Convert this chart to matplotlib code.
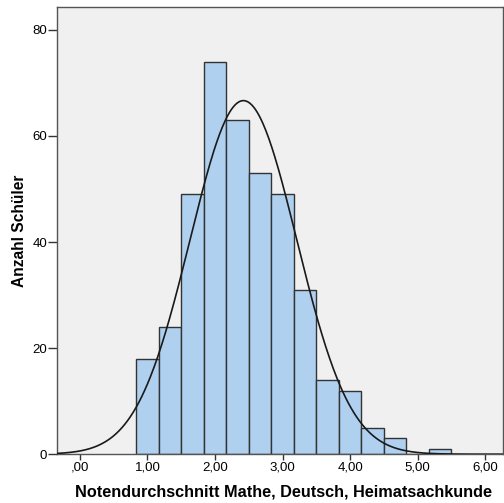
import numpy as np
import matplotlib.pyplot as plt

# histogram bins (lower edges) and counts
bin_width = 1 / 3
bin_starts = [0.8333, 1.1667, 1.5, 1.8333, 2.1667, 2.5, 2.8333, 3.1667,
              3.5, 3.8333, 4.1667, 4.5, 4.8333, 5.1667]
counts = [18, 24, 49, 74, 63, 53, 49, 31, 14, 12, 5, 3, 0, 1]

# fitted normal curve parameters
mean = 2.42
sd = 0.79

xticks = [0, 1, 2, 3, 4, 5, 6]
xtick_labels = [",00", "1,00", "2,00", "3,00", "4,00", "5,00", "6,00"]
yticks = [0, 20, 40, 60, 80]

plt.rcParams['font.family'] = ['Liberation Sans', 'DejaVu Sans']

fig = plt.figure(figsize=(5.04, 5.03), dpi=100)
ax = fig.add_axes([0.113, 0.097, 0.886, 0.889])
ax.set_facecolor('#f0f0f0')

ax.bar(bin_starts, counts, width=bin_width, align='edge',
       color='#afd1ef', edgecolor='#333333', linewidth=1.0, zorder=2)

x = np.linspace(-0.5, 6.5, 500)
n = sum(counts)
y = n * bin_width / (sd * np.sqrt(2 * np.pi)) * np.exp(-0.5 * ((x - mean) / sd) ** 2)
ax.plot(x, y, color='#1a1a1a', linewidth=1.2, zorder=3)

ax.set_xlim(-0.34, 6.27)
ax.set_ylim(0, 84.3)
ax.set_xticks(xticks)
ax.set_xticklabels(xtick_labels)
ax.set_yticks(yticks)
ax.tick_params(axis='x', labelsize=9.5, length=4, width=1, color='#333333',
               direction='out', pad=1)
ax.tick_params(axis='y', labelsize=9.5, length=6.5, width=1, color='#333333',
               direction='out', pad=0.5)
for s in ax.spines.values():
    s.set_color('#555555')
    s.set_linewidth(1)

ax.set_xlabel("Notendurchschnitt Mathe, Deutsch, Heimatsachkunde",
              fontsize=11.7, fontweight='bold')
ax.xaxis.set_label_coords(0.507, -0.068)
ax.set_ylabel("Anzahl Schüler", fontsize=11.2, fontweight='bold')
ax.yaxis.set_label_coords(-0.067, 0.5)

fig.savefig('out.png', dpi=100)
